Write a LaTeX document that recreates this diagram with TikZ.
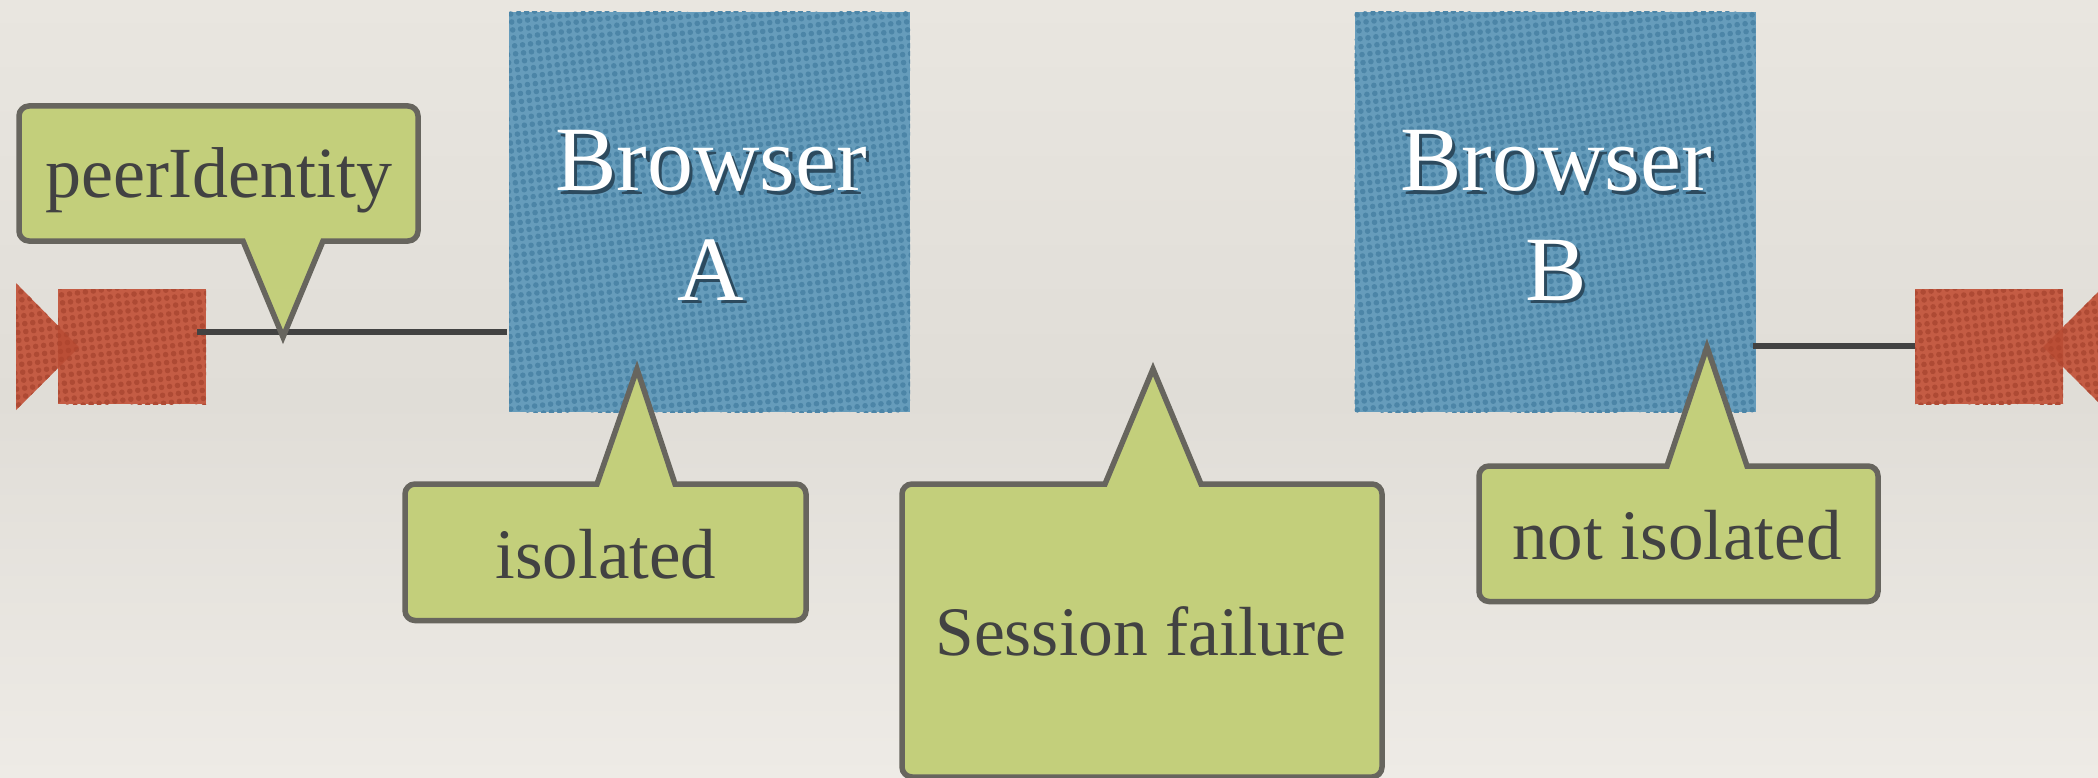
\documentclass[tikz,border=0pt]{standalone}
\usepackage{fontspec}
\usetikzlibrary{patterns.meta}
\setmainfont{Liberation Serif}
\definecolor{bgtop}{HTML}{E9E6E0}
\definecolor{bgmid}{HTML}{E0DDD7}
\definecolor{bgbot}{HTML}{EEEBE6}
\definecolor{calfill}{HTML}{C3CF7B}
\definecolor{caldraw}{HTML}{67655E}
\definecolor{inktext}{HTML}{424242}
\definecolor{bluebase}{HTML}{669CBB}
\definecolor{bluedot}{HTML}{4C85A7}
\definecolor{redbase}{HTML}{C45C44}
\definecolor{reddot}{HTML}{AE4A34}
\definecolor{redover}{HTML}{B3432B}
\definecolor{shadowc}{HTML}{2C4A5E}
\tikzset{
  browserbox/.style={rectangle,fill=bluebase,inner sep=0pt,outer sep=0pt},
  cambox/.style={rectangle,fill=redbase,inner sep=0pt,outer sep=0pt,minimum width=148pt,minimum height=115pt},
  bluedots/.style={pattern={Dots[distance=8pt,angle=7,radius=2.8pt]},pattern color=bluedot},
  reddots/.style={pattern={Dots[distance=8pt,angle=7,radius=2.8pt]},pattern color=reddot},
  callout/.style={draw=caldraw,fill=calfill,line width=5.5pt,line join=miter,miter limit=10},
  wire/.style={draw=inktext,line width=6pt},
  caltext/.style={text=inktext,anchor=base,inner sep=0pt,font=\fontsize{71}{71}\selectfont},
  browsertext/.style={text=white,anchor=base,inner sep=0pt,font=\fontsize{92}{92}\selectfont},
}
% l t r b baseL baseR tipx tipy ; t is the edge that carries the tail
\newcommand{\calloutshape}[8]{%
  \pgfmathsetmacro{\cs}{(#4>#2)?10:-10}%
  \pgfmathsetmacro{\ch}{(#4>#2)?4.5:-4.5}%
  \draw[callout] (#6,#2) -- ({#3-10},#2) .. controls ({#3-4.5},#2) and (#3,{#2+\ch}) .. (#3,{#2+\cs})
    -- (#3,{#4-\cs}) .. controls (#3,{#4-\ch}) and ({#3-4.5},#4) .. ({#3-10},#4)
    -- ({#1+10},#4) .. controls ({#1+4.5},#4) and (#1,{#4-\ch}) .. (#1,{#4-\cs})
    -- (#1,{#2+\cs}) .. controls (#1,{#2+\ch}) and ({#1+4.5},#2) .. ({#1+10},#2)
    -- (#5,#2) -- (#7,#8) -- cycle;
}
\newcommand{\shadowed}[1]{\leavevmode\rlap{\hspace{3.5pt}\raisebox{-3.5pt}{\textcolor{shadowc}{#1}}}#1}
\begin{document}
\begin{tikzpicture}[x=1pt,y=-1pt]
\useasboundingbox (0,0) rectangle (2098,778);
\shade[top color=bgtop,bottom color=bgmid] (0,0) rectangle (2098,400);
\shade[top color=bgmid,bottom color=bgbot] (0,400) rectangle (2098,778);

% cameras
\fill[redbase] (16,283) -- (79,347) -- (16,410) -- cycle;
\fill[reddots] (16,283) -- (79,347) -- (16,410) -- cycle;
\node[cambox] (camA) at (132,346.5) {};
\fill[reddots] (58,289) rectangle (206,404);
\fill[redover,opacity=.55] (58,326) -- (79,347) -- (58,368) -- cycle;
\node[cambox] (camB) at (1989,346.5) {};
\fill[reddots] (1915,289) rectangle (2063,404);
\fill[redbase] (2043,347) -- (2098,292) -- (2098,402) -- cycle;
\fill[reddots] (2043,347) -- (2098,292) -- (2098,402) -- cycle;
\fill[redover,opacity=.55] (2043,347) -- (2063,327) -- (2063,367) -- cycle;

% browsers
\node[browserbox,minimum width=401pt,minimum height=400pt] (browserA) at (709.5,212) {};
\fill[bluedots] (509,12) rectangle (910,412);
\node[browserbox,minimum width=401pt,minimum height=400pt] (browserB) at (1555,212) {};
\fill[bluedots] (1354.5,12) rectangle (1755.5,412);
\node[browsertext] (browserAname) at (711,191) {\shadowed{Browser}};
\node[browsertext] (browserAid) at (711,300) {\shadowed{A}};
\node[browsertext] (browserBname) at (1556,191) {\shadowed{Browser}};
\node[browsertext] (browserBid) at (1556,300) {\shadowed{B}};

% connectors
\coordinate (wireAstart) at (197,332);
\coordinate (wireAend) at (507,332);
\coordinate (wireBstart) at (1753,346);
\draw[wire] (wireAstart) -- (wireAend);
\draw[wire] (wireBstart) -- (camB.west |- wireBstart);

% callouts
\calloutshape{19}{241}{418}{106}{243}{323}{283}{337}
\node[caltext,font=\fontsize{72}{72}\selectfont] (peer) at (219,197) {peerIdentity};
\calloutshape{405}{484}{806}{620.5}{597}{675}{637}{369}
\node[caltext] (iso) at (606,578) {isolated};
\calloutshape{1479}{466}{1878}{601.5}{1667}{1747}{1707}{347}
\node[caltext] (notiso) at (1677,559) {not isolated};
\calloutshape{902}{484}{1382}{777}{1105}{1201}{1153}{369}
\node[caltext,font=\fontsize{69.5}{69.5}\selectfont] (fail) at (1141,655) {Session failure};
\end{tikzpicture}
\end{document}
